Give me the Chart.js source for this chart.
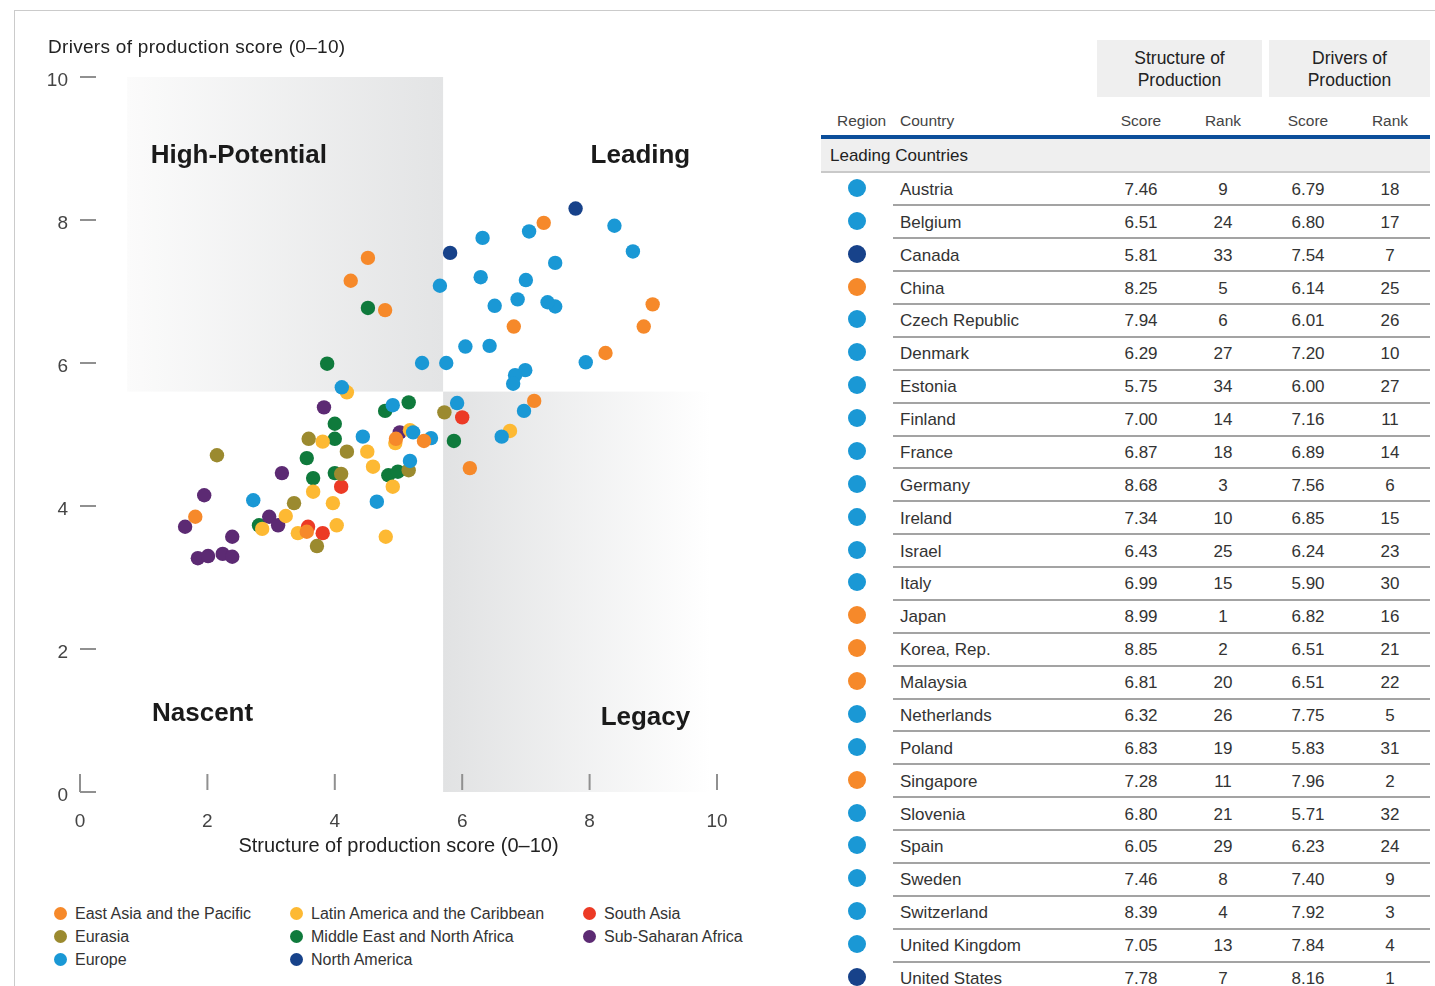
<!DOCTYPE html>
<html>
<head>
<meta charset="utf-8">
<script src="https://cdn.jsdelivr.net/npm/chart.js@4.4.1/dist/chart.umd.min.js"></script>
<style>
  body { margin: 0; width: 1435px; height: 986px; overflow: hidden; background: #fff; position: relative;
         font-family: "Liberation Sans", Arial, sans-serif; color: #333; }
  #frame { position: absolute; left: 14px; top: 10px; right: 0; bottom: 0;
           border-top: 1px solid #cbcbcb; border-left: 1px solid #cbcbcb; }
  #chartBox { position: absolute; left: 0; top: 0; width: 800px; height: 870px; }
  #ytitle { position: absolute; left: 48px; top: 36px; font-size: 19px; letter-spacing: 0.3px; color: #222; white-space: nowrap; }
  .leg { position: absolute; font-size: 16px; color: #333; white-space: nowrap; line-height: 20px; }
  .leg i { position: absolute; left: -21px; top: 3px; width: 13px; height: 13px; border-radius: 50%; }
  .abs { position: absolute; white-space: nowrap; }
  .hbox { position: absolute; top: 40px; height: 57px; background: #efefef; font-size: 17.5px; line-height: 22px;
          color: #222; text-align: center; display: flex; align-items: center; justify-content: center; }
  .colh { position: absolute; top: 112px; font-size: 15.5px; color: #444; }
  .num { position: absolute; width: 60px; text-align: center; font-size: 17px; color: #333; }
  .row { position: absolute; left: 893px; width: 537px; border-bottom: 2px solid #a3a3a3; box-sizing: border-box; }
  .dot { position: absolute; width: 18px; height: 18px; border-radius: 50%; }
</style>
</head>
<body>
<div id="frame"></div>
<div id="chartBox"><canvas id="chart" width="800" height="870"></canvas></div>
<div id="ytitle">Drivers of production score (0–10)</div>
<div id="legend"></div>
<div id="table"></div>

<script>
// Regions and their colours
const regions = ["East Asia and the Pacific", "Eurasia", "Europe", "Latin America and the Caribbean",
                 "Middle East and North Africa", "North America", "South Asia", "Sub-Saharan Africa"];
const regionColors = ["#f6892a", "#9b8a2f", "#1a98d5", "#fdb933", "#0f7a3c", "#17428a", "#ec3a25", "#5c2a73"];

// Leading countries (table on the right)
const leadingCountries = ["Austria", "Belgium", "Canada", "China", "Czech Republic", "Denmark", "Estonia", "Finland",
  "France", "Germany", "Ireland", "Israel", "Italy", "Japan", "Korea, Rep.", "Malaysia", "Netherlands", "Poland",
  "Singapore", "Slovenia", "Spain", "Sweden", "Switzerland", "United Kingdom", "United States"];
const leadingRegion = ["Europe", "Europe", "North America", "East Asia and the Pacific", "Europe", "Europe", "Europe",
  "Europe", "Europe", "Europe", "Europe", "Europe", "Europe", "East Asia and the Pacific", "East Asia and the Pacific",
  "East Asia and the Pacific", "Europe", "Europe", "East Asia and the Pacific", "Europe", "Europe", "Europe", "Europe",
  "Europe", "North America"];
const structureScore = [7.46, 6.51, 5.81, 8.25, 7.94, 6.29, 5.75, 7.00, 6.87, 8.68, 7.34, 6.43, 6.99, 8.99, 8.85,
  6.81, 6.32, 6.83, 7.28, 6.80, 6.05, 7.46, 8.39, 7.05, 7.78];
const structureRank = [9, 24, 33, 5, 6, 27, 34, 14, 18, 3, 10, 25, 15, 1, 2, 20, 26, 19, 11, 21, 29, 8, 4, 13, 7];
const driversScore = [6.79, 6.80, 7.54, 6.14, 6.01, 7.20, 6.00, 7.16, 6.89, 7.56, 6.85, 6.24, 5.90, 6.82, 6.51,
  6.51, 7.75, 5.83, 7.96, 5.71, 6.23, 7.40, 7.92, 7.84, 8.16];
const driversRank = [18, 17, 7, 25, 26, 10, 27, 11, 14, 6, 15, 23, 30, 16, 21, 22, 5, 31, 2, 32, 24, 9, 3, 4, 1];

// Other countries, [structure, drivers]
const eastAsiaOther = [[4.52, 7.47], [4.25, 7.15], [4.79, 6.74], [4.96, 4.94], [5.40, 4.91], [6.12, 4.53],
  [7.13, 5.47], [3.56, 3.64], [1.81, 3.85]];
const eurasiaOther = [[2.15, 4.71], [3.59, 4.94], [4.19, 4.76], [4.10, 4.45], [3.36, 4.04], [3.72, 3.44],
  [5.16, 4.50], [5.72, 5.31]];
const europeOther = [[4.11, 5.66], [4.44, 4.97], [4.91, 5.41], [5.23, 5.03], [5.51, 4.95], [5.18, 4.63],
  [4.66, 4.06], [2.72, 4.08], [5.92, 5.44], [6.62, 4.97], [6.97, 5.33], [5.37, 6.00], [5.65, 7.08]];
const latinOther = [[4.19, 5.59], [3.81, 4.90], [4.51, 4.76], [4.60, 4.55], [3.66, 4.20], [3.97, 4.04],
  [4.91, 4.27], [3.23, 3.86], [4.03, 3.73], [3.42, 3.62], [4.80, 3.57], [2.86, 3.68], [4.95, 4.88],
  [6.75, 5.05], [5.18, 5.06]];
const menaOther = [[4.52, 6.77], [3.88, 5.99], [4.79, 5.33], [5.16, 5.45], [4.00, 5.15], [4.00, 4.94],
  [3.56, 4.67], [3.66, 4.39], [4.00, 4.46], [4.84, 4.43], [4.99, 4.48], [5.87, 4.91], [2.81, 3.73]];
const northAmericaOther = [];
const southAsiaOther = [[6.00, 5.24], [4.10, 4.27], [3.58, 3.71], [3.81, 3.62]];
const ssaOther = [[3.83, 5.38], [5.02, 5.03], [3.17, 4.46], [1.95, 4.15], [1.65, 3.71], [2.97, 3.85],
  [3.11, 3.73], [2.39, 3.57], [1.85, 3.27], [2.01, 3.30], [2.24, 3.33], [2.39, 3.29]];
const otherByRegion = [eastAsiaOther, eurasiaOther, europeOther, latinOther, menaOther, northAmericaOther,
  southAsiaOther, ssaOther];

// Axis ticks and quadrant split
const axisTicks = [0, 2, 4, 6, 8, 10];
const xSplit = 5.7, ySplit = 5.6;
const quadrantLabels = [
  { text: "High-Potential", x: 1.11, y: 8.9, align: "left" },
  { text: "Leading", x: 9.58, y: 8.9, align: "right" },
  { text: "Nascent", x: 1.13, y: 1.1, align: "left" },
  { text: "Legacy", x: 9.58, y: 1.04, align: "right" }
];

// Draw order: first dataset ends up on top
const drawOrder = [0, 2, 5, 1, 3, 6, 7, 4];

const datasets = drawOrder.map((r, k) => {
  const pts = [];
  leadingCountries.forEach((c, i) => {
    if (leadingRegion[i] === regions[r]) pts.push({ x: structureScore[i], y: driversScore[i] });
  });
  otherByRegion[r].forEach(p => pts.push({ x: p[0], y: p[1] }));
  return {
    label: regions[r],
    data: pts,
    backgroundColor: regionColors[r],
    borderWidth: 0,
    pointRadius: 7.2,
    order: k
  };
});

Chart.defaults.font.family = "'Liberation Sans', Arial, sans-serif";

// Grey gradient boxes, tick marks and quadrant names
const quadrantPlugin = {
  id: "quadrants",
  beforeDatasetsDraw(chart) {
    const { ctx, scales: { x, y } } = chart;
    ctx.save();
    // High-Potential box
    let x0 = x.getPixelForValue(0.74), x1 = x.getPixelForValue(xSplit);
    let y0 = y.getPixelForValue(10), y1 = y.getPixelForValue(ySplit);
    let g = ctx.createLinearGradient(x0, 0, x1, 0);
    g.addColorStop(0, "#fbfbfb");
    g.addColorStop(1, "#e3e4e5");
    ctx.fillStyle = g;
    ctx.fillRect(x0, y0, x1 - x0, y1 - y0);
    // Legacy box
    x0 = x.getPixelForValue(xSplit); x1 = x.getPixelForValue(9.9);
    y0 = y.getPixelForValue(ySplit); y1 = y.getPixelForValue(0);
    g = ctx.createLinearGradient(x0, 0, x1, 0);
    g.addColorStop(0, "#e1e2e3");
    g.addColorStop(1, "#ffffff");
    ctx.fillStyle = g;
    ctx.fillRect(x0, y0, x1 - x0, y1 - y0);

    // tick marks drawn inside the plot
    ctx.strokeStyle = "#909090";
    ctx.lineWidth = 2;
    const ox = x.getPixelForValue(0), oy = y.getPixelForValue(0);
    ctx.beginPath();
    axisTicks.forEach(v => {
      const py = y.getPixelForValue(v);
      ctx.moveTo(ox, py); ctx.lineTo(ox + 16, py);
      const px = x.getPixelForValue(v);
      ctx.moveTo(px, oy - 18); ctx.lineTo(px, oy - (v === 0 ? 0 : 2));
    });
    ctx.stroke();

    // quadrant names
    ctx.fillStyle = "#1a1a1a";
    ctx.font = "bold 26px 'Liberation Sans', Arial, sans-serif";
    ctx.textBaseline = "middle";
    quadrantLabels.forEach(q => {
      ctx.textAlign = q.align;
      ctx.fillText(q.text, x.getPixelForValue(q.x), y.getPixelForValue(q.y));
    });
    ctx.restore();
  }
};

new Chart(document.getElementById("chart"), {
  type: "scatter",
  data: { datasets },
  options: {
    responsive: false,
    animation: false,
    devicePixelRatio: 1,
    layout: { padding: { top: 77, right: 83, left: 0, bottom: 0 } },
    plugins: { legend: { display: false }, tooltip: { enabled: false } },
    scales: {
      x: {
        type: "linear", min: 0, max: 10,
        ticks: { stepSize: 2, padding: 18, color: "#444", font: { size: 19 } },
        grid: { display: false, drawTicks: false },
        border: { display: false },
        title: { display: true, text: "Structure of production score (0–10)", color: "#222",
                 font: { size: 20 }, padding: { top: 0, bottom: 12 } },
        afterFit(s) { s.height = 78; }
      },
      y: {
        type: "linear", min: 0, max: 10,
        ticks: { stepSize: 2, padding: 12, labelOffset: 4, color: "#444", font: { size: 19 } },
        grid: { display: false, drawTicks: false },
        border: { display: false },
        afterFit(s) { s.width = 80; }
      }
    }
  },
  plugins: [quadrantPlugin]
});

// Legend (three columns)
const legendColumns = [[0, 1, 2], [3, 4, 5], [6, 7]];
const legendX = [75, 311, 604];
const legend = document.getElementById("legend");
legendColumns.forEach((col, c) => {
  col.forEach((r, k) => {
    const d = document.createElement("div");
    d.className = "leg";
    d.style.left = legendX[c] + "px";
    d.style.top = (904 + k * 23) + "px";
    d.innerHTML = `<i style="background:${regionColors[r]}"></i>${regions[r]}`;
    legend.appendChild(d);
  });
});

// Table
const table = document.getElementById("table");
let html = "";
html += `<div class="hbox" style="left:1097px;width:165px">Structure of<br>Production</div>`;
html += `<div class="hbox" style="left:1269px;width:161px">Drivers of<br>Production</div>`;
html += `<div class="colh" style="left:837px">Region</div>`;
html += `<div class="colh" style="left:900px">Country</div>`;
const colCenters = [1141, 1223, 1308, 1390];
["Score", "Rank", "Score", "Rank"].forEach((t, i) => {
  html += `<div class="colh" style="left:${colCenters[i] - 30}px;width:60px;text-align:center">${t}</div>`;
});
html += `<div class="abs" style="left:821px;top:135px;width:609px;height:4px;background:#0b4e9a"></div>`;
html += `<div class="abs" style="left:821px;top:139px;width:609px;height:32px;background:#efefef;border-bottom:2px solid #c9c9c9;font-size:17px;color:#222;line-height:34px;text-indent:9px">Leading Countries</div>`;
const rowH = 32.875;
leadingCountries.forEach((c, i) => {
  const top = 172.5 + i * rowH;
  const mid = top + rowH / 2;
  const col = regionColors[regions.indexOf(leadingRegion[i])];
  html += `<div class="row" style="top:${top}px;height:${rowH + 1}px"></div>`;
  html += `<div class="dot" style="left:848px;top:${mid - 10}px;background:${col}"></div>`;
  html += `<div class="abs" style="left:900px;top:${mid - 9}px;font-size:17px;color:#333">${c}</div>`;
  const vals = [structureScore[i].toFixed(2), structureRank[i], driversScore[i].toFixed(2), driversRank[i]];
  vals.forEach((v, j) => {
    html += `<div class="num" style="left:${colCenters[j] - 30}px;top:${mid - 9}px">${v}</div>`;
  });
});
table.innerHTML = html;
</script>
</body>
</html>
